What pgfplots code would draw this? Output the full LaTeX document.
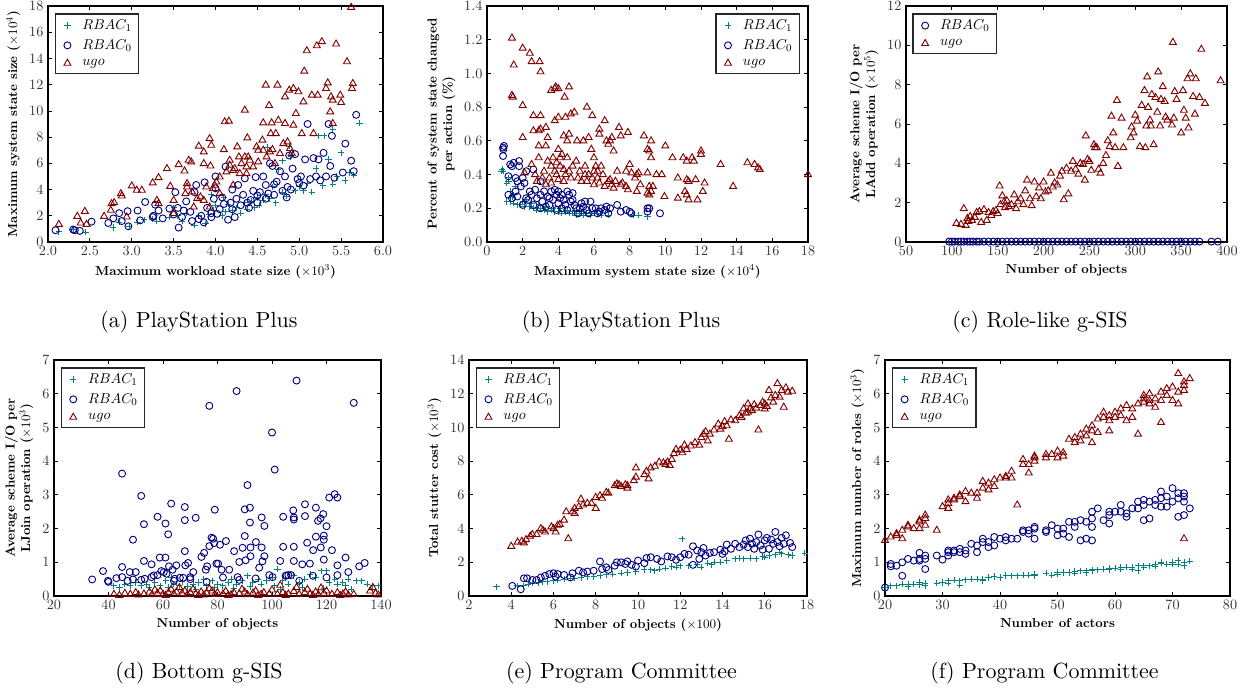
\documentclass[border=0pt]{standalone}
\usepackage{pgfplots}
\pgfplotsset{compat=1.18}
\definecolor{cteal}{RGB}{0,128,128}
\definecolor{cnavy}{RGB}{0,0,128}
\definecolor{cmaroon}{RGB}{128,0,0}
% 1 px of the reference = 0.77pt here, so that labels sit at the 10pt design size
\pgfplotsset{
  panel/.style={
    scale only axis, height=181.72pt,
    axis line style={line width=0.9pt},
    tick style={black, line width=0.6pt},
    major tick length=3.4pt,
    tick label style={font=\fontsize{10.8}{13}\selectfont, black!80},
    label style={font=\fontsize{10}{12}\selectfont\bfseries},
    ylabel style={align=center},
    legend cell align=left,
    legend style={font=\fontsize{10.8}{13}\selectfont, draw=black!85, line width=1.1pt,
      at={(0.02,0.97)}, anchor=north west, row sep=3.2pt,
      inner xsep=3.85pt, inner ysep=3.1pt, nodes={inner sep=1.5pt}},
  },
  limg/.style={legend image code/.code={\path[draw=none,fill=none] (0pt,-2pt) rectangle (15.4pt,2pt);
      \draw[##1] plot coordinates {(5.4pt,0pt)};}},
  r1/.style={only marks, limg, mark=+, color=cteal, mark size=2.4pt, line width=0.7pt,
    mark options={draw=cteal}},
  r0/.style={only marks, limg, mark=o, color=cnavy, mark size=2.7pt, line width=0.7pt,
    mark options={draw=cnavy}},
  ug/.style={only marks, limg, mark=triangle, color=cmaroon, mark size=3.1pt, line width=0.7pt,
    mark options={draw=cmaroon}},
}
\tikzset{subcap/.style={font=\fontsize{10}{12}\selectfont, scale=1.69}}
\begin{document}
\begin{tikzpicture}
\useasboundingbox (0,0) rectangle (960.96pt,-531.3pt);

% (a)
\begin{axis}[panel, at={(36.96pt,-4.62pt)}, anchor=north west, width=257.95pt,
  xmin=2, xmax=6, ymin=0, ymax=18,
  xtick={2,2.5,...,6}, ytick={0,2,...,18},
  xticklabel style={/pgf/number format/.cd, fixed, fixed zerofill, precision=1},
  xlabel={Maximum workload state size ($\times10^3$)},
  ylabel={Maximum system state size ($\times10^4$)}]
\addplot[r1] coordinates {(2.13,0.8) (2.3,0.95) (2.45,0.75) (2.78,1.1) (2.85,1.5) (2.97,1.2) (3.07,1.5) (3.15,1.7) (3.25,1.75) (3.3,1.6) (3.45,1.9) (3.5,2.6) (3.55,2.0) (3.6,1.6) (3.65,2.2) (3.75,1.3) (3.8,2.0) (3.88,1.4) (3.92,2.1) (3.98,2.4) (4.0,2.8) (4.08,2.0) (4.12,2.3) (4.15,2.9) (4.2,2.4) (4.25,2.6) (4.3,2.2) (4.35,3.0) (4.38,2.5) (4.43,3.1) (4.47,2.6) (4.5,3.4) (4.52,2.8) (4.57,3.2) (4.6,3.6) (4.65,3.3) (4.68,4.2) (4.72,3.0) (4.75,5.5) (4.8,3.8) (4.85,3.5) (4.88,7.3) (4.9,6.5) (4.95,3.9) (5.0,4.2) (5.05,3.9) (5.1,4.5) (5.15,3.8) (5.2,5.6) (5.23,8.1) (5.28,4.3) (5.3,8.1) (5.35,6.3) (5.4,4.4) (5.4,8.6) (5.45,5.0) (5.5,6.8) (5.55,4.7) (5.6,5.3) (5.65,5.1) (5.72,9.05) (4.62,7.2) (4.8,6.2) (3.95,3.6) (4.1,3.4)};
\addlegendentry{$RBAC_1$}
\addplot[r0] coordinates {(2.09,0.9) (2.3,0.95) (2.32,0.9) (2.38,0.85) (2.52,1.55) (2.72,1.45) (2.78,1.8) (2.85,2.2) (2.88,1.6) (2.95,2.35) (2.96,1.2) (3.07,2.4) (3.1,1.65) (3.16,3.05) (3.25,1.9) (3.26,2.0) (3.28,2.85) (3.32,2.4) (3.37,1.8) (3.45,2.55) (3.5,2.1) (3.52,3.8) (3.55,2.6) (3.56,1.1) (3.6,1.9) (3.62,2.4) (3.65,3.1) (3.7,2.3) (3.72,1.6) (3.77,4.35) (3.8,1.75) (3.83,2.0) (3.86,1.5) (3.9,2.6) (3.87,4.55) (3.95,2.2) (3.98,3.3) (4.0,5.0) (4.02,2.15) (4.08,3.4) (4.1,2.9) (4.12,5.75) (4.15,1.7) (4.18,3.0) (4.2,4.0) (4.23,1.9) (4.25,3.3) (4.27,4.35) (4.3,2.8) (4.33,3.6) (4.35,4.85) (4.38,3.0) (4.42,3.2) (4.45,3.9) (4.48,4.95) (4.5,3.55) (4.53,3.8) (4.57,5.0) (4.6,4.35) (4.63,3.7) (4.65,6.0) (4.68,5.8) (4.7,4.4) (4.73,4.6) (4.77,5.4) (4.8,3.9) (4.83,5.0) (4.86,4.2) (4.88,6.6) (4.9,4.0) (4.92,5.6) (4.95,6.7) (4.98,4.8) (5.0,4.5) (5.02,5.0) (5.05,4.3) (5.07,6.3) (5.1,9.0) (5.13,4.8) (5.17,6.4) (5.2,5.0) (5.23,6.3) (5.25,4.7) (5.29,6.8) (5.32,5.0) (5.35,9.0) (5.37,5.8) (5.39,8.1) (5.42,4.9) (5.52,5.3) (5.55,7.5) (5.62,6.2) (5.65,5.4) (5.68,9.7) (4.05,2.5) (3.95,1.9) (4.4,2.6) (4.6,3.3) (4.0,4.1) (3.75,3.8) (4.2,2.5) (4.5,3.0) (4.7,3.6) (4.85,3.4)};
\addlegendentry{$RBAC_0$}
\addplot[ug] coordinates {(2.13,1.35) (2.35,1.96) (2.44,2.34) (2.39,1.45) (2.46,1.35) (2.67,1.96) (2.76,2.93) (2.79,3.0) (2.75,2.42) (2.87,3.69) (2.88,3.51) (2.94,1.91) (3.0,4.28) (3.06,3.95) (3.12,3.95) (3.25,4.51) (3.32,4.91) (3.42,5.6) (3.46,4.25) (3.56,5.9) (3.63,5.42) (3.66,4.46) (3.64,3.69) (3.71,6.11) (3.68,6.24) (3.8,7.31) (3.86,6.87) (3.86,5.98) (3.93,7.89) (3.95,7.38) (3.94,5.8) (3.99,4.33) (3.86,3.18) (4.11,9.17) (4.16,9.22) (4.1,7.05) (4.17,5.86) (4.26,7.26) (4.21,5.47) (4.29,5.22) (4.35,10.06) (4.38,7.94) (4.41,6.24) (4.35,6.49) (4.49,7.26) (4.51,6.11) (4.56,7.77) (4.57,9.09) (4.6,11.97) (4.64,10.41) (4.67,9.09) (4.66,8.27) (4.68,7.05) (4.74,11.97) (4.75,9.29) (4.72,8.27) (4.83,11.07) (4.88,11.58) (4.83,9.04) (4.86,7.64) (4.93,11.71) (4.96,9.8) (4.99,11.46) (4.93,8.91) (5.03,8.27) (5.05,10.69) (5.06,13.03) (5.09,14.59) (5.15,11.2) (5.21,14.97) (5.22,11.2) (5.17,8.27) (5.27,15.28) (5.32,11.71) (5.34,12.14) (5.37,9.93) (5.38,11.07) (5.4,10.82) (5.44,15.1) (5.49,11.2) (5.5,10.64) (5.57,13.75) (5.62,17.9) (5.64,12.09) (5.63,11.71) (5.4,9.04) (4.01,4.58) (4.05,4.96) (4.13,5.35) (4.17,6.24) (4.23,5.6) (4.28,6.49) (4.31,5.98) (4.37,5.73) (4.39,6.49) (4.45,5.73) (4.51,7.0) (4.57,7.0) (4.61,6.49) (4.65,6.87) (4.71,5.98) (4.77,6.75) (4.81,7.51) (4.89,7.13) (4.91,6.75) (3.66,4.2) (3.72,3.82) (3.78,3.31) (3.82,3.44) (3.89,4.2) (3.97,4.07) (3.5,3.18) (3.3,3.18) (3.32,2.93) (3.5,2.16) (3.74,2.67) (3.93,2.67) (4.21,4.33) (4.37,5.22) (4.05,3.69)};
\addlegendentry{$ugo$}
\end{axis}

% (b)
\begin{axis}[panel, at={(374.99pt,-4.62pt)}, anchor=north west, width=247.17pt,
  xmin=0, xmax=18, ymin=0, ymax=1.4,
  xtick={0,2,...,18}, ytick={0,0.2,...,1.4},
  yticklabel style={/pgf/number format/.cd, fixed, fixed zerofill, precision=1},
  legend style={at={(0.975,0.97)}, anchor=north east},
  xlabel={Maximum system state size ($\times10^4$)},
  ylabel={Percent of system state changed\\per action (\%)}]
\addplot[r1] coordinates {(0.8,0.42) (0.85,0.43) (0.9,0.42) (1.1,0.35) (1.2,0.36) (1.2,0.38) (1.1,0.24) (1.3,0.24) (1.5,0.23) (1.5,0.28) (1.7,0.22) (1.9,0.22) (2.1,0.21) (2.2,0.25) (2.4,0.21) (2.6,0.2) (2.8,0.19) (3.0,0.2) (3.2,0.19) (3.4,0.18) (3.6,0.19) (3.8,0.18) (4.0,0.18) (4.2,0.17) (4.4,0.18) (4.6,0.17) (4.8,0.17) (5.0,0.16) (5.2,0.17) (5.4,0.16) (5.6,0.17) (5.8,0.16) (6.0,0.17) (6.4,0.16) (6.8,0.16) (8.2,0.16) (8.5,0.16) (9.0,0.15) (1.6,0.33) (1.4,0.27) (2.5,0.23) (3.3,0.21) (4.1,0.2) (4.9,0.18) (1.3,0.3) (2.0,0.24) (2.9,0.22) (3.7,0.2) (4.5,0.19) (5.3,0.18) (6.2,0.17)};
\addlegendentry{$RBAC_1$}
\addplot[r0] coordinates {(0.9,0.56) (0.95,0.57) (0.92,0.55) (0.9,0.51) (1.2,0.39) (1.3,0.46) (1.4,0.45) (1.5,0.47) (1.8,0.48) (1.8,0.45) (1.6,0.38) (1.7,0.36) (1.2,0.28) (1.4,0.26) (1.6,0.3) (1.9,0.33) (2.0,0.38) (2.1,0.35) (2.2,0.42) (2.4,0.3) (2.6,0.43) (2.2,0.26) (2.5,0.28) (2.7,0.31) (2.8,0.26) (3.0,0.36) (3.0,0.28) (3.2,0.3) (3.1,0.24) (3.4,0.27) (3.5,0.22) (3.6,0.3) (3.7,0.25) (3.8,0.31) (3.9,0.28) (4.0,0.3) (4.0,0.23) (4.1,0.26) (4.2,0.2) (4.3,0.25) (4.4,0.22) (4.5,0.3) (4.6,0.28) (4.7,0.24) (4.8,0.29) (4.9,0.22) (5.0,0.2) (5.2,0.2) (5.3,0.23) (5.5,0.24) (5.6,0.19) (5.8,0.24) (5.9,0.2) (6.1,0.2) (6.3,0.18) (6.4,0.2) (6.6,0.19) (6.7,0.21) (6.9,0.2) (7.3,0.22) (7.5,0.18) (7.8,0.19) (8.0,0.18) (8.1,0.17) (9.0,0.2) (9.1,0.2) (9.0,0.18) (9.7,0.17) (2.0,0.22) (2.3,0.25) (3.3,0.21) (3.9,0.19) (4.5,0.19) (5.1,0.17) (5.7,0.17) (6.2,0.17) (6.8,0.17) (1.7,0.27) (2.6,0.22) (3.0,0.2) (4.8,0.25) (5.4,0.21) (4.2,0.28) (3.5,0.26)};
\addlegendentry{$RBAC_0$}
\addplot[ug] coordinates {(1.4,1.21) (1.5,1.05) (1.4,0.87) (1.45,0.86) (2.0,1.15) (2.4,1.12) (2.5,1.07) (2.95,1.07) (3.0,1.01) (2.0,0.81) (2.0,0.62) (2.6,0.75) (3.0,0.75) (2.6,0.66) (3.0,0.67) (2.9,0.66) (3.3,0.68) (3.4,0.62) (2.9,0.57) (3.3,0.57) (2.9,0.5) (2.5,0.46) (2.1,0.41) (3.4,0.48) (3.6,0.9) (3.8,0.91) (3.85,0.92) (4.0,0.91) (4.35,0.86) (4.6,0.92) (3.8,0.72) (4.0,0.74) (4.4,0.74) (4.7,0.76) (4.9,0.77) (4.3,0.63) (4.6,0.64) (4.5,0.6) (4.0,0.55) (3.7,0.5) (3.9,0.47) (4.1,0.5) (4.2,0.52) (4.5,0.5) (3.6,0.45) (3.8,0.42) (3.9,0.4) (4.1,0.45) (4.3,0.43) (4.6,0.42) (4.8,0.45) (4.0,0.37) (4.3,0.36) (3.5,0.38) (3.2,0.42) (5.05,0.6) (5.0,0.48) (5.4,0.6) (5.2,0.42) (5.5,0.45) (5.6,0.8) (5.7,0.62) (5.9,0.75) (5.85,0.55) (6.0,0.5) (5.5,0.4) (5.7,0.4) (5.9,0.38) (6.1,0.45) (6.3,0.67) (6.3,0.64) (6.6,0.72) (6.4,0.45) (6.5,0.4) (6.2,0.42) (6.7,0.6) (6.8,0.58) (6.9,0.6) (7.0,0.62) (7.1,0.54) (7.4,0.68) (7.5,0.63) (7.9,0.65) (6.0,0.34) (6.3,0.35) (6.6,0.33) (6.9,0.37) (7.1,0.32) (7.2,0.36) (7.5,0.34) (7.8,0.33) (7.3,0.42) (7.6,0.35) (7.8,0.42) (8.0,0.46) (8.1,0.41) (8.4,0.4) (8.5,0.41) (8.3,0.38) (7.9,0.31) (8.4,0.3) (8.6,0.34) (8.8,0.63) (9.2,0.6) (9.0,0.55) (9.1,0.54) (9.2,0.5) (9.0,0.41) (9.1,0.33) (9.3,0.33) (9.5,0.4) (9.8,0.4) (9.0,0.29) (9.1,0.28) (9.2,0.3) (10.0,0.57) (10.4,0.5) (9.95,0.27) (10.7,0.38) (11.0,0.5) (11.2,0.48) (11.2,0.37) (11.3,0.36) (10.7,0.26) (11.1,0.3) (11.2,0.28) (11.3,0.25) (11.5,0.5) (11.6,0.48) (11.7,0.37) (11.8,0.25) (12.0,0.54) (12.0,0.52) (12.2,0.35) (12.1,0.3) (13.1,0.46) (13.8,0.33) (14.6,0.47) (15.0,0.46) (15.2,0.44) (15.3,0.43) (18.0,0.4) (2.7,0.4) (2.8,0.36) (3.1,0.38) (3.3,0.34) (3.6,0.35) (4.4,0.4) (4.7,0.38) (5.1,0.38) (5.3,0.36) (5.6,0.36) (6.0,0.42) (6.2,0.38) (6.8,0.36) (7.0,0.34)};
\addlegendentry{$ugo$}
\end{axis}

% (c)
\begin{axis}[panel, at={(697.62pt,-4.62pt)}, anchor=north west, width=247.17pt,
  xmin=50, xmax=400, ymin=0, ymax=12,
  xtick={50,100,...,400}, ytick={0,2,...,12},
  xlabel={Number of objects},
  ylabel={Average scheme I/O per\\LAdd operation ($\times10^5$)}]
\addplot[r0] coordinates {(97,0.02) (100,0.02) (103,0.02) (107,0.02) (110,0.02) (113,0.02) (117,0.02) (120,0.02) (123,0.02) (127,0.02) (130,0.02) (135,0.02) (140,0.02) (145,0.02) (150,0.02) (155,0.02) (160,0.02) (165,0.02) (170,0.02) (175,0.02) (180,0.02) (185,0.02) (190,0.02) (195,0.02) (200,0.02) (205,0.02) (210,0.02) (215,0.02) (220,0.02) (225,0.02) (230,0.02) (235,0.02) (240,0.02) (245,0.02) (250,0.02) (255,0.02) (260,0.02) (265,0.02) (270,0.02) (275,0.02) (280,0.02) (285,0.02) (290,0.02) (295,0.02) (300,0.02) (305,0.02) (310,0.02) (315,0.02) (320,0.02) (325,0.02) (330,0.02) (335,0.02) (340,0.02) (345,0.02) (350,0.02) (355,0.02) (360,0.02) (365,0.02) (370,0.02) (383,0.02) (390,0.02)};
\addlegendentry{$RBAC_0$}
\addplot[ug] coordinates {(105,0.95) (110,0.9) (113,1.7) (115,0.85) (117,1.2) (118,1.05) (120,1.3) (122,1.1) (125,1.25) (127,1.5) (130,1.55) (132,1.0) (135,1.65) (138,1.1) (140,1.5) (143,1.35) (145,1.55) (148,1.6) (150,1.45) (152,2.85) (153,1.9) (155,2.35) (157,2.05) (158,1.75) (160,2.1) (162,1.8) (165,1.9) (168,2.4) (170,1.7) (172,2.05) (175,2.2) (178,1.9) (180,2.6) (182,3.15) (185,2.2) (187,1.85) (190,3.05) (192,2.3) (195,2.75) (197,2.2) (200,3.05) (202,2.55) (205,2.6) (208,3.5) (210,2.8) (212,3.0) (215,2.9) (218,3.35) (220,3.6) (222,2.15) (225,3.75) (227,2.45) (230,3.6) (232,4.1) (235,3.7) (238,3.45) (240,4.0) (243,3.95) (245,3.15) (246,5.4) (248,4.2) (250,4.1) (252,3.65) (255,4.95) (256,4.8) (258,4.8) (260,3.7) (262,3.5) (265,4.0) (268,4.4) (270,5.15) (272,4.85) (274,6.4) (276,5.55) (278,4.8) (280,7.2) (281,3.85) (285,6.3) (287,4.8) (295,5.3) (296,5.85) (298,5.55) (300,6.45) (302,6.15) (305,4.85) (307,6.95) (310,7.7) (311,4.8) (312,5.9) (313,8.4) (314,6.85) (316,6.2) (317,5.9) (318,7.5) (320,4.95) (322,7.35) (324,6.6) (325,8.65) (327,5.9) (328,7.25) (330,7.9) (332,7.15) (333,6.35) (335,6.2) (340,5.95) (342,6.3) (343,7.65) (345,7.25) (341,10.15) (350,5.55) (352,7.7) (353,6.7) (355,6.3) (357,8.3) (358,5.8) (360,8.55) (363,7.4) (365,6.5) (366,8.3) (370,7.35) (372,9.8) (376,7.05) (393,8.2)};
\addlegendentry{$ugo$}
\end{axis}

% (d)
\begin{axis}[panel, at={(41.58pt,-277.2pt)}, anchor=north west, width=251.79pt,
  xmin=20, xmax=140, ymin=0, ymax=7,
  xtick={20,40,...,140}, ytick={0,1,...,7},
  xlabel={Number of objects},
  ylabel={Average scheme I/O per\\LJoin operation ($\times10^3$)}]
\addplot[r1] coordinates {(42,0.3) (44,0.25) (46,0.35) (48,0.3) (50,0.4) (52,0.3) (54,0.35) (55,0.25) (57,0.4) (59,0.3) (61,0.45) (62,0.25) (64,0.35) (66,0.3) (67,0.42) (69,0.28) (71,0.35) (73,0.4) (75,0.5) (76,0.3) (78,0.45) (80,0.35) (82,0.3) (84,0.4) (85,0.5) (87,0.35) (89,0.45) (91,0.6) (93,0.4) (95,0.5) (96,0.35) (98,0.45) (100,0.55) (101,0.3) (102,0.8) (104,0.45) (106,0.35) (108,0.6) (110,0.4) (112,0.5) (114,0.65) (116,0.55) (118,0.75) (120,0.75) (121,0.4) (123,0.5) (124,0.35) (126,0.4) (128,0.5) (129,0.2) (131,0.45) (133,0.45) (135,0.35) (137,0.3) (139,0.3) (63,0.55) (72,0.2) (79,0.25) (86,0.22) (92,0.28) (103,0.2) (111,0.25) (119,0.22) (127,0.3)};
\addlegendentry{$RBAC_1$}
\addplot[r0] coordinates {(34,0.49) (38,0.74) (39.8,0.45) (40,0.42) (42.9,0.53) (45,3.63) (45,0.86) (45,0.56) (47.8,0.71) (49,0.49) (49,1.67) (50,0.71) (52,2.97) (53,2.13) (53,1.04) (53.3,0.51) (55.8,0.94) (55.8,0.56) (56.6,0.61) (58,2.35) (58.8,1.14) (59.4,0.74) (60.3,0.71) (60.9,2.15) (60.9,1.14) (61.3,0.66) (61.9,1.83) (62.2,0.88) (63,2.74) (63.5,0.78) (64.3,0.51) (64.9,0.91) (66.2,0.54) (67.4,0.54) (68,2.64) (68,2.25) (68,1.33) (68.2,0.91) (69.2,0.98) (70,0.56) (72,2.32) (71.1,0.71) (74.1,1.16) (75.1,1.28) (75.7,0.78) (76.2,0.88) (77,5.64) (77,1.48) (77.8,1.73) (78.4,1.7) (79,2.56) (78.8,1.57) (79.6,0.96) (80.2,0.96) (80.9,1.52) (81.5,0.78) (83.1,1.63) (84.3,0.78) (86.1,1.33) (87,6.08) (87.4,0.56) (88,1.01) (89.2,1.43) (90,2.57) (90,1.78) (90.3,1.06) (91,3.29) (91.9,2.18) (91.9,2.62) (92.1,1.44) (92.1,1.18) (94.1,1.6) (95.3,0.84) (96.2,2.33) (96.2,1.44) (96.5,1.03) (97.2,2.08) (97.2,1.18) (100,4.85) (101,3.75) (100.2,0.56) (103,1.04) (104.1,2.35) (104.1,1.46) (105.3,0.61) (107.8,2.54) (108,2.33) (108,2.27) (108,1.46) (108,1.04) (109,6.39) (111.1,0.94) (112.1,2.72) (112.1,2.37) (112.9,1.58) (113.9,0.96) (115.1,1.36) (116.1,2.62) (116.1,1.76) (116.9,2.23) (117.8,2.3) (117.9,1.44) (118.8,2.43) (119,1.79) (119,1.67) (119,1.08) (120,2.07) (121,2.92) (122,1.36) (123,3.02) (124,2.92) (124,0.91) (127,1.14) (128,0.71) (130,5.73) (132,0.88) (134,0.98) (47,0.45) (52,0.48) (58,0.62) (64,0.45) (70,0.5) (76,0.42) (82,0.55) (88,0.48) (94,0.52) (99,0.62) (106,0.62) (110,0.45) (115,0.6) (120,0.55) (124,0.62) (105,0.6) (107,0.62)};
\addlegendentry{$RBAC_0$}
\addplot[ug] coordinates {(42,0.05) (44,0.02) (46,0.08) (48,0.05) (50,0.1) (51,0.03) (53,0.06) (55,0.12) (56,0.04) (58,0.08) (59,0.15) (60,0.05) (62,0.1) (63,0.2) (64,0.06) (65,0.12) (66,0.25) (67,0.08) (68,0.15) (69,0.04) (70,0.1) (71,0.2) (72,0.06) (74,0.12) (75,0.03) (76,0.09) (78,0.15) (79,0.05) (80,0.1) (82,0.06) (83,0.14) (85,0.04) (86,0.1) (88,0.07) (90,0.12) (91,0.04) (93,0.09) (94,0.15) (96,0.05) (97,0.1) (99,0.06) (100,0.18) (102,0.05) (103,0.32) (104,0.1) (106,0.06) (108,0.14) (109,0.25) (110,0.05) (112,0.1) (113,0.2) (114,0.06) (116,0.12) (117,0.04) (118,0.24) (119,0.08) (120,0.15) (122,0.05) (124,0.1) (126,0.06) (127,0.12) (128,0.03) (130,0.05) (136,0.15) (137,0.25) (138,0.08) (139,0.03) (61,0.02) (73,0.02) (84,0.02) (95,0.02) (105,0.02) (115,0.02) (125,0.02) (57,0.18) (77,0.22) (89,0.2)};
\addlegendentry{$ugo$}
\end{axis}

% (e)
\begin{axis}[panel, at={(361.13pt,-277.2pt)}, anchor=north west, width=260.26pt,
  xmin=2, xmax=18, ymin=0, ymax=14,
  xtick={2,4,...,18}, ytick={0,2,...,14},
  xlabel={Number of objects ($\times100$)},
  ylabel={Total stutter cost ($\times10^3$)}]
\addplot[r1] coordinates {(3.3,0.55) (4.3,0.6) (4.6,0.6) (4.8,0.7) (5.0,0.75) (5.3,0.8) (5.5,0.85) (5.7,0.85) (6.0,0.9) (6.2,0.95) (6.5,1.0) (6.8,1.05) (7.0,1.05) (7.3,1.1) (7.6,1.15) (7.9,1.15) (8.2,1.2) (8.5,1.25) (8.8,1.3) (9.2,1.35) (9.5,1.4) (9.9,1.45) (10.3,1.55) (10.6,1.55) (11.0,1.6) (11.3,1.65) (11.6,1.75) (12.0,1.8) (12.1,3.4) (12.4,1.8) (12.8,1.85) (13.0,1.7) (13.3,1.95) (13.6,2.0) (13.9,2.0) (14.2,2.1) (14.6,2.2) (15.0,2.2) (15.3,2.25) (15.6,2.2) (15.9,2.35) (16.2,2.4) (16.5,2.45) (16.8,2.5) (17.1,2.45) (17.3,2.4) (17.9,2.55) (14.8,2.25) (16.0,2.3) (16.7,2.6) (13.5,1.85) (11.8,1.7) (10.8,1.5)};
\addlegendentry{$RBAC_1$}
\addplot[r0] coordinates {(4.05,0.6) (4.45,0.4) (4.6,1.05) (4.75,1.05) (5.0,0.95) (5.2,0.95) (5.4,1.1) (5.6,1.2) (5.8,1.3) (6.0,1.35) (6.1,1.15) (6.2,1.3) (6.5,1.25) (6.8,1.1) (6.9,1.35) (7.2,1.5) (7.4,1.4) (7.6,1.45) (7.9,1.5) (8.2,2.05) (8.3,1.6) (8.5,1.7) (8.6,1.55) (8.9,1.8) (9.0,2.0) (9.2,2.0) (9.4,1.9) (9.5,2.05) (9.7,1.85) (9.9,1.75) (10.0,2.1) (10.3,1.95) (10.4,2.25) (10.6,2.3) (10.9,2.2) (11.1,2.05) (11.4,2.35) (11.6,2.3) (11.8,2.15) (12.0,2.3) (12.2,2.5) (12.4,2.45) (12.6,2.95) (12.6,1.85) (12.8,2.7) (13.0,2.6) (13.1,2.85) (13.2,2.4) (13.4,2.55) (13.6,2.6) (13.9,2.75) (14.0,2.5) (14.2,3.05) (14.4,2.8) (14.6,3.1) (14.8,2.9) (15.0,3.05) (15.1,3.3) (15.2,2.9) (15.3,3.4) (15.4,3.1) (15.5,2.8) (15.6,3.2) (15.7,3.65) (15.8,3.0) (16.0,3.3) (16.1,3.45) (16.2,2.8) (16.3,3.35) (16.4,3.1) (16.5,3.8) (16.6,3.2) (16.7,2.95) (16.8,3.45) (16.9,3.1) (17.0,3.6) (17.2,3.15) (17.3,2.9) (12.9,2.2) (14.1,2.65) (15.9,2.75)};
\addlegendentry{$RBAC_0$}
\addplot[ug] coordinates {(4.0,2.95) (4.3,3.2) (4.5,3.25) (4.6,3.15) (4.7,3.35) (4.9,3.55) (5.0,3.65) (5.2,3.65) (5.4,4.0) (5.5,3.9) (5.6,3.8) (5.9,4.1) (6.0,4.0) (6.1,3.8) (6.2,4.2) (6.3,4.25) (6.5,4.5) (6.6,5.0) (6.7,3.4) (6.9,5.0) (7.0,5.2) (7.0,4.9) (7.2,5.3) (7.3,5.75) (7.4,5.4) (7.6,5.5) (7.8,5.5) (8.0,5.85) (8.0,5.2) (8.2,5.95) (8.3,5.8) (8.5,6.15) (8.9,6.55) (9.0,6.65) (9.1,6.6) (9.2,6.5) (9.4,6.6) (9.5,6.55) (9.8,6.85) (9.9,7.05) (9.9,7.6) (10.4,7.4) (10.5,6.95) (10.6,7.6) (10.8,7.7) (11.0,7.95) (11.2,7.9) (11.3,7.8) (11.5,7.75) (11.6,8.1) (11.7,8.45) (11.8,8.7) (12.0,8.65) (12.2,8.95) (12.3,8.7) (12.5,8.9) (12.7,9.1) (12.9,8.95) (13.0,9.4) (13.1,9.6) (13.2,9.75) (13.4,9.6) (13.6,9.85) (13.8,10.2) (13.9,9.9) (14.0,10.05) (14.1,10.35) (14.2,10.1) (14.3,9.3) (14.4,10.45) (14.6,10.4) (14.9,10.6) (15.0,11.1) (15.1,10.85) (15.2,11.4) (15.3,11.1) (15.4,11.0) (15.5,11.35) (15.6,11.15) (15.7,9.85) (15.8,11.3) (15.9,11.5) (16.0,11.4) (16.1,11.25) (16.2,12.2) (16.3,11.75) (16.4,11.5) (16.5,11.9) (16.6,12.6) (16.7,11.8) (16.8,12.2) (16.9,11.2) (17.0,12.35) (17.1,12.1) (17.3,12.15) (12.1,8.5) (13.3,9.2) (14.8,10.7) (15.2,10.9) (16.0,11.1) (10.3,7.2) (11.4,7.95) (9.5,6.4) (8.6,6.1)};
\addlegendentry{$ugo$}
\end{axis}

% (f)
\begin{axis}[panel, at={(681.45pt,-277.2pt)}, anchor=north west, width=265.65pt,
  xmin=20, xmax=80, ymin=0, ymax=7,
  xtick={20,30,...,80}, ytick={0,1,...,7},
  xlabel={Number of actors},
  ylabel={Maximum number of roles ($\times10^3$)}]
\addplot[r1] coordinates {(20,0.25) (21,0.3) (22,0.3) (23,0.35) (24,0.35) (24,0.28) (25,0.35) (26,0.4) (26,0.33) (27,0.38) (27,0.3) (29,0.38) (30,0.4) (31,0.45) (31,0.38) (32,0.47) (33,0.45) (33,0.32) (34,0.48) (35,0.5) (36,0.5) (37,0.5) (37,0.45) (38,0.55) (39,0.58) (40,0.55) (41,0.6) (41,0.62) (42,0.6) (43,0.6) (44,0.62) (45,0.62) (46,0.65) (46,0.6) (48,0.68) (49,0.62) (50,0.7) (50,0.65) (51,0.7) (52,0.7) (53,0.73) (53,0.68) (54,0.75) (55,0.75) (55,0.7) (56,0.78) (56,0.75) (57,0.78) (58,0.8) (59,0.82) (59,0.78) (60,0.82) (61,0.85) (61,0.8) (62,0.85) (63,0.85) (63,0.8) (64,0.9) (64,0.75) (65,0.9) (65,0.85) (66,0.9) (67,0.95) (67,0.88) (68,0.98) (68,1.0) (69,0.95) (70,1.0) (70,0.95) (71,1.05) (71,0.95) (72,1.0) (72,0.9) (73,1.03)};
\addlegendentry{$RBAC_1$}
\addplot[r0] coordinates {(20,0.25) (21,0.95) (21,0.88) (22,0.9) (23,1.0) (23,0.6) (24,1.1) (25,1.05) (26,1.1) (26,1.28) (26,1.05) (27,1.2) (27,0.8) (27,1.1) (29,1.2) (30,1.08) (31,1.3) (31,1.2) (31,1.35) (32,1.35) (32,1.3) (33,1.4) (33,1.3) (34,1.35) (34,1.25) (35,1.55) (36,1.3) (36,1.5) (37,1.6) (37,1.7) (38,1.45) (38,1.6) (39,1.75) (39,1.5) (40,1.7) (41,1.75) (41,1.65) (42,1.7) (43,1.7) (44,1.95) (44,1.9) (45,1.85) (45,1.95) (46,2.0) (46,1.7) (46,2.05) (48,1.95) (48,1.9) (49,2.1) (50,2.0) (50,1.8) (51,2.0) (51,1.85) (52,1.75) (52,2.2) (53,2.2) (53,2.05) (54,2.25) (54,1.65) (55,2.2) (55,1.7) (56,2.5) (56,2.05) (56,2.3) (56,1.65) (57,2.6) (58,2.25) (59,2.5) (59,2.4) (59,2.15) (60,2.5) (61,2.7) (61,2.5) (62,2.45) (62,2.35) (63,2.6) (64,2.6) (64,2.8) (65,2.85) (65,2.7) (65,2.25) (66,2.8) (66,2.3) (67,2.85) (67,2.7) (68,3.1) (68,2.9) (68,2.65) (69,2.95) (69,2.65) (70,3.2) (70,2.8) (71,3.05) (71,2.9) (71,2.35) (72,3.05) (72,2.95) (72,2.8) (72,2.4) (73,2.6)};
\addlegendentry{$RBAC_0$}
\addplot[ug] coordinates {(20,1.65) (21,1.75) (22,1.85) (22,1.8) (23,1.95) (23,1.7) (24,2.1) (24,2.05) (25,2.0) (26,2.2) (26,2.25) (26,2.0) (27,2.3) (27,2.4) (27,2.1) (29,1.95) (30,2.65) (31,2.75) (31,2.85) (31,2.6) (32,2.9) (32,2.85) (33,2.95) (33,3.0) (34,3.1) (34,2.8) (35,3.05) (36,3.05) (36,2.9) (37,3.4) (37,3.2) (38,3.35) (38,3.15) (39,3.45) (39,3.25) (40,3.5) (41,3.55) (41,3.5) (42,3.7) (42,3.5) (43,2.7) (44,4.05) (44,3.9) (45,3.9) (45,3.65) (46,4.15) (46,4.0) (46,4.1) (48,4.2) (48,4.1) (49,4.2) (50,4.3) (50,4.1) (51,4.25) (51,4.15) (52,4.65) (53,4.7) (53,4.55) (54,4.8) (54,4.6) (55,4.95) (55,4.75) (56,5.05) (56,4.55) (56,4.9) (57,4.85) (57,5.25) (58,5.45) (59,5.35) (59,5.2) (59,4.9) (60,5.3) (60,5.45) (61,5.55) (61,5.35) (62,5.65) (62,5.2) (63,5.3) (64,4.8) (64,5.7) (65,5.95) (65,5.75) (65,5.85) (66,6.0) (66,5.7) (67,5.85) (67,5.6) (68,6.05) (68,5.15) (68,5.8) (69,6.15) (69,5.95) (70,6.2) (70,5.8) (71,6.6) (71,6.05) (71,5.7) (72,6.35) (72,6.25) (72,6.1) (72,1.7) (73,6.45) (66,5.8) (63,5.55) (58,5.3)};
\addlegendentry{$ugo$}
\end{axis}

\node[subcap] at (153.23pt,-247.94pt) {(a) PlayStation Plus};
\node[subcap] at (478.17pt,-247.94pt) {(b) PlayStation Plus};
\node[subcap] at (800.8pt,-247.94pt) {(c) Role-like g-SIS};
\node[subcap] at (153.23pt,-518.21pt) {(d) Bottom g-SIS};
\node[subcap] at (478.56pt,-518.21pt) {(e) Program Committee};
\node[subcap] at (804.27pt,-518.21pt) {(f) Program Committee};
\end{tikzpicture}
\end{document}
